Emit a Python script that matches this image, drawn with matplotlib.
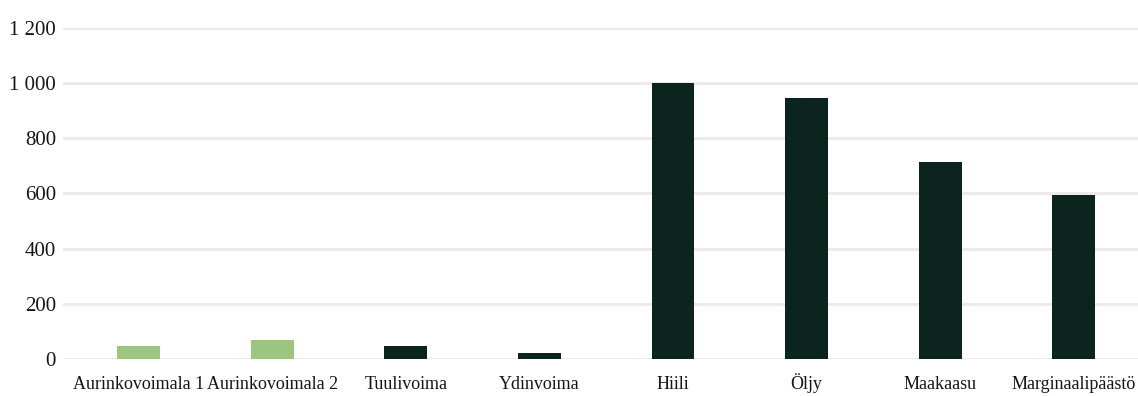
import matplotlib
matplotlib.use("Agg")
import matplotlib.pyplot as plt
import numpy as np
from matplotlib.ticker import FuncFormatter

# Lifecycle emissions by generation type
categories = ["Aurinkovoimala 1", "Aurinkovoimala 2", "Tuulivoima", "Ydinvoima",
              "Hiili", "Öljy", "Maakaasu", "Marginaalipäästö"]
values = [47, 70, 47, 22, 1000, 945, 715, 595]
is_solar = [True, True, False, False, False, False, False, False]
y_ticks = [0, 200, 400, 600, 800, 1000, 1200]

GREEN = "#9cc57f"
DARK = "#0b241e"
GRID = "#eeeaea"

plt.rcParams["font.family"] = ["Liberation Serif", "DejaVu Serif"]

fig = plt.figure(figsize=(11.38, 3.96), dpi=100)
ax = fig.add_axes([63 / 1138, 1 - 359 / 396, 1 - 63 / 1138, (359 - 28) / 396])

x = np.arange(len(categories))
colors = [GREEN if s else DARK for s in is_solar]
ax.bar(x, values, width=0.32, color=colors, zorder=3)

ax.set_xlim(-0.565, 7.48)
ax.set_ylim(0, 1200)
ax.set_yticks(y_ticks)
ax.yaxis.set_major_formatter(FuncFormatter(lambda v, _: f"{int(v):,}".replace(",", " ")))
ax.set_xticks(x)
ax.set_xticklabels(categories, va="baseline")

ax.grid(axis="y", color=GRID, linewidth=2.2, zorder=0)
ax.grid(axis="x", visible=False)
for side in ["top", "right", "left", "bottom"]:
    ax.spines[side].set_visible(False)

ax.tick_params(axis="y", length=0, pad=5, labelsize=15, labelcolor="#151515")
ax.tick_params(axis="x", length=0, pad=21.5, labelsize=13, labelcolor="#151515")

fig.savefig("out.png", dpi=100)
